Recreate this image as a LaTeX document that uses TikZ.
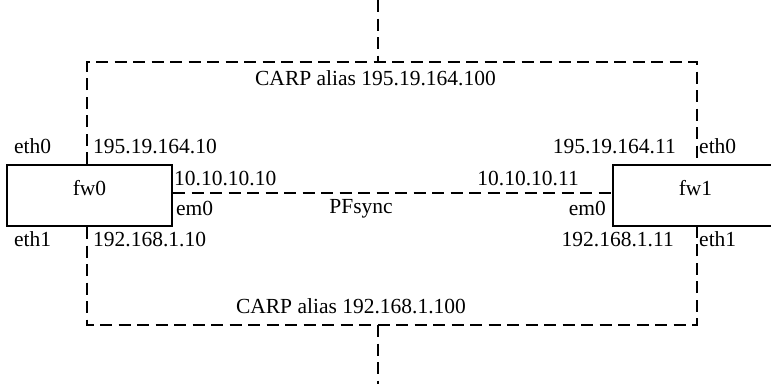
\documentclass[tikz,border=0pt]{standalone}
\usepackage{fontspec}
\setmainfont{Liberation Serif}
\begin{document}
\begin{tikzpicture}[x=1pt,y=-1pt,
  lbl/.style={inner sep=0pt, font=\fontsize{21.5}{25}\selectfont},
  fwbox/.style={draw, line width=2pt, rectangle, minimum width=165pt, minimum height=61pt,
    inner sep=0pt, text height=14pt, text depth=15pt, font=\fontsize{21.5}{25}\selectfont},
  net/.style={line width=2pt, dash pattern=on 12pt off 6.5pt}]
\useasboundingbox (0,0) rectangle (771,384);
\clip (0,0) rectangle (771,384);
% firewalls
\node[fwbox] (fw0) at (89.5,195.5) {fw0};
\node[fwbox] (fw1) at (695.5,195.5) {fw1};
% corner coordinates
\coordinate (tl) at (87,62);
\coordinate (tr) at (697,62);
\coordinate (bl) at (87,325);
\coordinate (br) at (697,325);
\coordinate (tm) at (378,62);
\coordinate (bm) at (378,325);
\coordinate (up) at (378,0);
\coordinate (down) at (378,384);
% networks
\draw[net] (tl |- fw0.north) -- (tl) -- (tr) -- (tr |- fw1.north);
\draw[net] (bl |- fw0.south) -- (bl) -- (br) -- (br |- fw1.south);
\draw[net] (up) -- (tm);
\draw[net] (bm) -- (down);
\draw[net] ([yshift=3pt]fw0.east) -- ([yshift=3pt]fw1.west);
% labels
\node[lbl, anchor=base] (carp0) at (375.5,85) {CARP alias 195.19.164.100};
\node[lbl, anchor=base] (carp1) at (351,313) {CARP alias 192.168.1.100};
\node[lbl, anchor=base] (pfs) at (361,213) {PFsync};
\node[lbl, anchor=base west] (l0eth0) at (14,153) {eth0};
\node[lbl, anchor=base west] (l0ip0) at (93,153) {195.19.164.10};
\node[lbl, anchor=base west] (l0em) at (174,185) {10.10.10.10};
\node[lbl, anchor=base west] (l0em0) at (176,215) {em0};
\node[lbl, anchor=base west] (l0eth1) at (14,246) {eth1};
\node[lbl, anchor=base west] (l0ip1) at (93,246) {192.168.1.10};
\node[lbl, anchor=base east] (r0ip0) at (676,153) {195.19.164.11};
\node[lbl, anchor=base west] (r0eth0) at (699,153) {eth0};
\node[lbl, anchor=base east] (r0em) at (579,185) {10.10.10.11};
\node[lbl, anchor=base east] (r0em0) at (606,215) {em0};
\node[lbl, anchor=base east] (r0ip1) at (674,246) {192.168.1.11};
\node[lbl, anchor=base west] (r0eth1) at (699,246) {eth1};
\end{tikzpicture}
\end{document}
